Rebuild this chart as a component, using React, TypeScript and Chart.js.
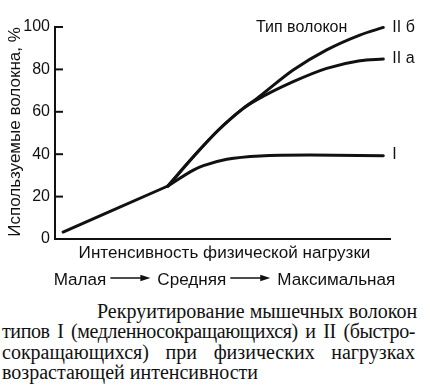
import React, { useEffect, useRef } from "react";
import { Chart, registerables } from "chart.js";

Chart.register(...registerables);

// ---- data ----
const yTicks = [0, 20, 40, 60, 80, 100];
const sharedX = [2.4, 33.7];
const sharedY = [3.3, 25];
const typeIX = [33.7, 41.3, 44.3, 51.3, 61.2, 76.1, 98];
const typeIY = [25, 32.5, 34.6, 37.6, 39.2, 39.6, 39.3];
const typeIIaX = [33.7, 41.3, 48.8, 56.2, 60.2, 71.1, 81.1, 91, 98];
const typeIIaY = [25, 38.8, 51.4, 61.6, 65.6, 74.2, 80.5, 84.1, 84.9];
const typeIIbX = [33.7, 41.3, 48.8, 56.2, 60.2, 71.1, 81.1, 91, 98];
const typeIIbY = [25, 38.8, 51.4, 61.6, 66.2, 79.7, 89.2, 96.2, 99.8];
const seriesLabels = ["I", "II а", "II б"];
const legendTitle = "Тип волокон";
const yTitle = "Используемые волокна, %";
const xTitle = "Интенсивность физической нагрузки";
const intensityLevels = ["Малая", "Средняя", "Максимальная"];
const captionLines = [
  "Рекруитирование мышечных волокон",
  "типов I (медленносокращающихся) и II (быстро-",
  "сокращающихся) при физических нагрузках",
  "возрастающей интенсивности",
];

const FONT = '"Liberation Sans", Arial, sans-serif';
const INK = "#111";

const toPts = (xs: number[], ys: number[]) => xs.map((x, i) => ({ x, y: ys[i] }));

const annotations = {
  id: "annotations",
  afterDraw(chart: any) {
    const ctx = chart.ctx as CanvasRenderingContext2D;
    const { chartArea } = chart;
    const xs = chart.scales.x;
    const ys = chart.scales.y;
    ctx.save();
    ctx.fillStyle = INK;
    ctx.strokeStyle = INK;
    // inner tick marks
    ctx.lineWidth = 2;
    yTicks.forEach((v) => {
      const y = ys.getPixelForValue(v);
      ctx.beginPath();
      ctx.moveTo(chartArea.left, y);
      ctx.lineTo(chartArea.left + 8, y);
      ctx.stroke();
    });
    // y title
    ctx.save();
    ctx.font = `17px ${FONT}`;
    ctx.textAlign = "center";
    ctx.textBaseline = "middle";
    ctx.translate(15, (chartArea.top + chartArea.bottom) / 2 - 1);
    ctx.rotate(-Math.PI / 2);
    ctx.fillText(yTitle, 0, 0);
    ctx.restore();
    // series labels at line ends
    ctx.font = `16px ${FONT}`;
    ctx.textAlign = "left";
    ctx.textBaseline = "middle";
    const endX = xs.getPixelForValue(typeIX[typeIX.length - 1]) + 9;
    ctx.fillText(seriesLabels[0], endX, ys.getPixelForValue(typeIY[typeIY.length - 1]) - 1);
    ctx.fillText(seriesLabels[1], endX, ys.getPixelForValue(typeIIaY[typeIIaY.length - 1]));
    ctx.fillText(seriesLabels[2], endX, ys.getPixelForValue(typeIIbY[typeIIbY.length - 1]));
    ctx.textAlign = "right";
    ctx.fillText(legendTitle, endX - 45, ys.getPixelForValue(typeIIbY[typeIIbY.length - 1]));
    // x titles
    ctx.font = `17.1px ${FONT}`;
    ctx.textBaseline = "alphabetic";
    const cx = (chartArea.left + chartArea.right) / 2 + 2;
    ctx.textAlign = "center";
    ctx.fillText(xTitle, cx, chartArea.bottom + 19);
    const arrowLen = 40;
    const gapL = 4;
    const gapR = 7;
    const widths = intensityLevels.map((t) => ctx.measureText(t).width);
    const total = widths.reduce((a, b) => a + b, 0) + 2 * (arrowLen + gapL + gapR);
    let x = cx - total / 2;
    const y2 = chartArea.bottom + 46;
    const ay = y2 - 7;
    ctx.textAlign = "left";
    intensityLevels.forEach((t, i) => {
      ctx.fillText(t, x, y2);
      x += widths[i];
      if (i < intensityLevels.length - 1) {
        const ax0 = x + gapL;
        const ax1 = ax0 + arrowLen;
        ctx.lineWidth = 1.6;
        ctx.beginPath();
        ctx.moveTo(ax0, ay);
        ctx.lineTo(ax1 - 6, ay);
        ctx.stroke();
        ctx.beginPath();
        ctx.moveTo(ax1, ay);
        ctx.lineTo(ax1 - 10, ay - 3.2);
        ctx.lineTo(ax1 - 10, ay + 3.2);
        ctx.closePath();
        ctx.fill();
        x = ax1 + gapR;
      }
    });
    ctx.restore();
  },
};

export default function App() {
  const ref = useRef<HTMLCanvasElement>(null);
  useEffect(() => {
    if (!ref.current) return;
    const line = (data: any[]) => ({
      data,
      borderColor: INK,
      borderWidth: 3,
      pointRadius: 0,
      cubicInterpolationMode: "monotone" as const,
      borderCapStyle: "round" as const,
      borderJoinStyle: "round" as const,
      clip: false as any,
    });
    const chart = new Chart(ref.current, {
      type: "line",
      data: {
        datasets: [
          line(toPts(sharedX, sharedY)),
          line(toPts(typeIX, typeIY)),
          line(toPts(typeIIaX, typeIIaY)),
          line(toPts(typeIIbX, typeIIbY)),
        ],
      },
      options: {
        animation: false,
        responsive: false,
        devicePixelRatio: 1,
        layout: { padding: { left: 0, top: 27, right: 40, bottom: 0 } },
        plugins: { legend: { display: false }, tooltip: { enabled: false } },
        scales: {
          x: {
            type: "linear",
            min: 0,
            max: 100,
            ticks: { display: false },
            grid: { drawOnChartArea: false, drawTicks: false },
            border: { display: true, color: INK, width: 2 },
            afterFit: (s: any) => {
              s.height = 51;
            },
          },
          y: {
            type: "linear",
            min: 0,
            max: 100,
            ticks: {
              stepSize: 20,
              padding: 5,
              color: INK,
              font: { family: FONT, size: 16 },
            },
            grid: { drawOnChartArea: false, drawTicks: false },
            border: { display: true, color: INK, width: 2 },
            afterFit: (s: any) => {
              s.width = 55;
            },
          },
        },
      },
      plugins: [annotations],
    });
    return () => chart.destroy();
  }, []);

  const last = captionLines.length - 1;
  return (
    <div style={{ position: "absolute", left: 0, top: 0, width: 430, height: 390, background: "#fff" }}>
      <canvas ref={ref} width={430} height={290} style={{ display: "block", width: 430, height: 290 }} />
      <div
        style={{
          position: "absolute",
          left: 2,
          top: 301,
          width: 413,
          fontFamily: '"Liberation Serif", "Times New Roman", serif',
          fontSize: 20,
          lineHeight: "20.3px",
          color: INK,
        }}
      >
        {captionLines.map((t, i) => (
          <div
            key={i}
            style={{
              height: "20.3px",
              whiteSpace: "nowrap",
              textAlign: i === last ? "left" : "justify",
              textAlignLast: i === last ? "left" : "justify",
              paddingLeft: i === 0 ? 95 : 0,
              letterSpacing: i === 1 ? "-0.4px" : "0px",
            }}
          >
            {t}
          </div>
        ))}
      </div>
    </div>
  );
}
